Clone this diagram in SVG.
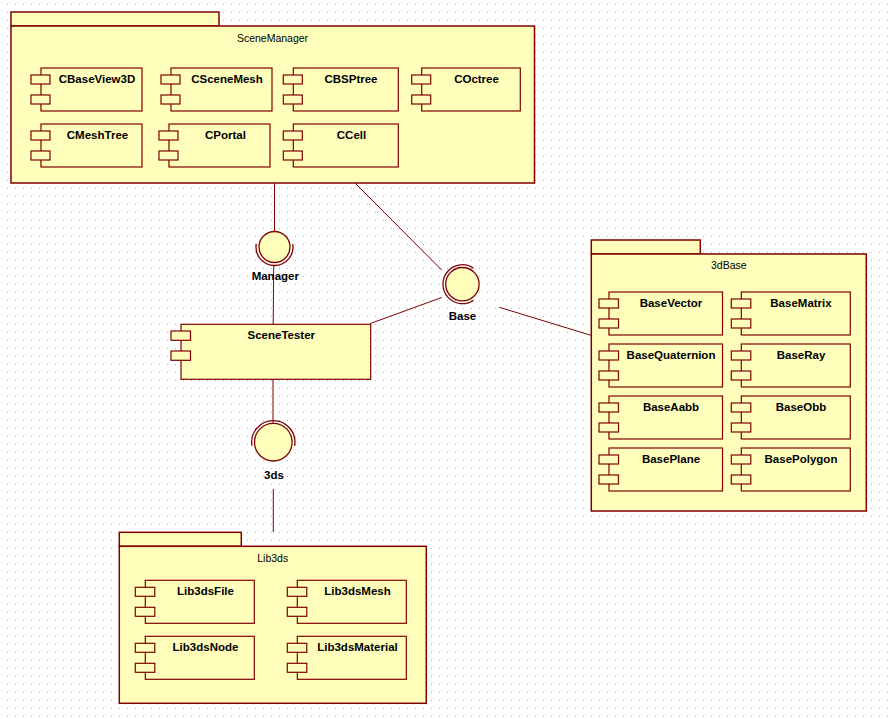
<svg xmlns="http://www.w3.org/2000/svg" width="889" height="719" viewBox="0 0 889 719">
<defs>
<pattern id="grid" x="0" y="0" width="8" height="8" patternUnits="userSpaceOnUse">
<rect x="7" y="4" width="1" height="1" fill="#b4b4b4"/>
</pattern>
<style>
.pkg{fill:#ffffbb;stroke:#800000;stroke-width:1.5}
.cmp{fill:#ffffbb;stroke:#800000;stroke-width:1.2}
.ball{fill:#ffffbb;stroke:#800000;stroke-width:1.3}
.sock{fill:none;stroke:#800000;stroke-width:1.3}
.ln{fill:none;stroke:#800000;stroke-width:1}
.pn{font-family:"Liberation Sans",Arial,sans-serif;font-size:10.5px;fill:#000;text-anchor:middle}
.cn{font-family:"Liberation Sans",Arial,sans-serif;font-size:11.5px;font-weight:bold;fill:#000;text-anchor:middle}
</style>
</defs>
<rect width="889" height="719" fill="#ffffff"/>
<rect width="889" height="719" fill="url(#grid)"/>

<g id="connectors">
<line class="ln" x1="274.5" y1="183" x2="274.5" y2="231.5"/>
<line class="ln" x1="273.7" y1="266" x2="273.2" y2="324"/>
<line class="ln" x1="273" y1="379" x2="273" y2="423"/>
<line class="ln" x1="273.3" y1="489" x2="273.3" y2="532"/>
<line class="ln" x1="355" y1="183" x2="441.7" y2="270"/>
<line class="ln" x1="370.3" y1="323.5" x2="441.7" y2="297.5"/>
<line class="ln" x1="499.3" y1="307.3" x2="591" y2="335.3"/>
</g>

<g id="SceneManager">
<rect class="pkg" x="11" y="12" width="208" height="14"/>
<rect class="pkg" x="11" y="26" width="523.5" height="157"/>
<text class="pn" x="272.5" y="41.5">SceneManager</text>
</g>
<g id="CBaseView3D">
<rect class="cmp" x="41" y="68" width="101" height="43"/>
<rect class="cmp" x="31" y="75" width="19" height="9"/><rect class="cmp" x="31" y="95" width="19" height="9"/>
<text class="cn" x="97" y="82.5">CBaseView3D</text>
</g>
<g id="CSceneMesh">
<rect class="cmp" x="171" y="68" width="101" height="43"/>
<rect class="cmp" x="161" y="75" width="19" height="9"/><rect class="cmp" x="161" y="95" width="19" height="9"/>
<text class="cn" x="227" y="82.5">CSceneMesh</text>
</g>
<g id="CBSPtree">
<rect class="cmp" x="293.3" y="68" width="105" height="43"/>
<rect class="cmp" x="283.3" y="75" width="19" height="9"/><rect class="cmp" x="283.3" y="95" width="19" height="9"/>
<text class="cn" x="351" y="82.5">CBSPtree</text>
</g>
<g id="COctree">
<rect class="cmp" x="421.7" y="68" width="98.6" height="43"/>
<rect class="cmp" x="411.7" y="75" width="19" height="9"/><rect class="cmp" x="411.7" y="95" width="19" height="9"/>
<text class="cn" x="476.5" y="82.5">COctree</text>
</g>
<g id="CMeshTree">
<rect class="cmp" x="41" y="124" width="101" height="43"/>
<rect class="cmp" x="31" y="131" width="19" height="9"/><rect class="cmp" x="31" y="151" width="19" height="9"/>
<text class="cn" x="97.5" y="138.5">CMeshTree</text>
</g>
<g id="CPortal">
<rect class="cmp" x="169" y="124" width="101" height="43"/>
<rect class="cmp" x="159" y="131" width="19" height="9"/><rect class="cmp" x="159" y="151" width="19" height="9"/>
<text class="cn" x="225.5" y="138.5">CPortal</text>
</g>
<g id="CCell">
<rect class="cmp" x="293.3" y="124" width="105" height="43"/>
<rect class="cmp" x="283.3" y="131" width="19" height="9"/><rect class="cmp" x="283.3" y="151" width="19" height="9"/>
<text class="cn" x="351.5" y="138.5">CCell</text>
</g>

<g id="Manager">
<circle class="ball" cx="274.5" cy="247" r="15.5"/>
<path class="sock" d="M256.28 243.79 A18.5 18.5 0 1 0 292.72 243.79"/>
<text class="cn" x="275.3" y="280">Manager</text>
</g>

<g id="Base">
<circle class="ball" cx="462.4" cy="284.2" r="16.7"/>
<path class="sock" d="M473.6 268.2 A19.5 19.5 0 1 0 473.6 300.2"/>
<text class="cn" x="462.5" y="320">Base</text>
</g>

<g id="SceneTester">
<rect class="cmp" x="181" y="324.3" width="189.7" height="55"/>
<rect class="cmp" x="171" y="331" width="19.5" height="9.3"/><rect class="cmp" x="171" y="351" width="19.5" height="9.3"/>
<text class="cn" x="281.3" y="339">SceneTester</text>
</g>

<g id="i3ds">
<circle class="ball" cx="273.3" cy="442.2" r="18.8"/>
<path class="sock" d="M252.03 445.9 A21.6 21.6 0 1 1 294.57 445.9"/>
<text class="cn" x="274" y="479">3ds</text>
</g>

<g id="p3dBase">
<rect class="pkg" x="591.3" y="240" width="109" height="14"/>
<rect class="pkg" x="591.3" y="254" width="275" height="257"/>
<text class="pn" x="728.8" y="269.3">3dBase</text>
</g>
<g id="BaseVector">
<rect class="cmp" x="609" y="292" width="113.5" height="43"/>
<rect class="cmp" x="599" y="299" width="19.5" height="9"/><rect class="cmp" x="599" y="319" width="19.5" height="9"/>
<text class="cn" x="671" y="306.5">BaseVector</text>
</g>
<g id="BaseMatrix">
<rect class="cmp" x="741.3" y="292" width="109" height="43"/>
<rect class="cmp" x="731.3" y="299" width="19.5" height="9"/><rect class="cmp" x="731.3" y="319" width="19.5" height="9"/>
<text class="cn" x="801" y="306.5">BaseMatrix</text>
</g>
<g id="BaseQuaternion">
<rect class="cmp" x="609" y="344" width="113.5" height="43"/>
<rect class="cmp" x="599" y="351" width="19.5" height="9"/><rect class="cmp" x="599" y="371" width="19.5" height="9"/>
<text class="cn" x="671" y="358.5">BaseQuaternion</text>
</g>
<g id="BaseRay">
<rect class="cmp" x="741.3" y="344" width="109" height="43"/>
<rect class="cmp" x="731.3" y="351" width="19.5" height="9"/><rect class="cmp" x="731.3" y="371" width="19.5" height="9"/>
<text class="cn" x="801" y="358.5">BaseRay</text>
</g>
<g id="BaseAabb">
<rect class="cmp" x="609" y="396" width="113.5" height="43"/>
<rect class="cmp" x="599" y="403" width="19.5" height="9"/><rect class="cmp" x="599" y="423" width="19.5" height="9"/>
<text class="cn" x="671" y="410.5">BaseAabb</text>
</g>
<g id="BaseObb">
<rect class="cmp" x="741.3" y="396" width="109" height="43"/>
<rect class="cmp" x="731.3" y="403" width="19.5" height="9"/><rect class="cmp" x="731.3" y="423" width="19.5" height="9"/>
<text class="cn" x="801" y="410.5">BaseObb</text>
</g>
<g id="BasePlane">
<rect class="cmp" x="609" y="448" width="113.5" height="43"/>
<rect class="cmp" x="599" y="455" width="19.5" height="9"/><rect class="cmp" x="599" y="475" width="19.5" height="9"/>
<text class="cn" x="671" y="462.5">BasePlane</text>
</g>
<g id="BasePolygon">
<rect class="cmp" x="741.3" y="448" width="109" height="43"/>
<rect class="cmp" x="731.3" y="455" width="19.5" height="9"/><rect class="cmp" x="731.3" y="475" width="19.5" height="9"/>
<text class="cn" x="801" y="462.5">BasePolygon</text>
</g>

<g id="Lib3ds">
<rect class="pkg" x="119.3" y="532.3" width="122" height="14"/>
<rect class="pkg" x="119.3" y="546.3" width="307" height="157"/>
<text class="pn" x="272.7" y="561.5">Lib3ds</text>
</g>
<g id="Lib3dsFile">
<rect class="cmp" x="145.3" y="580.3" width="109" height="43"/>
<rect class="cmp" x="135.3" y="587.3" width="19.5" height="9"/><rect class="cmp" x="135.3" y="607.3" width="19.5" height="9"/>
<text class="cn" x="205.5" y="594.8">Lib3dsFile</text>
</g>
<g id="Lib3dsMesh">
<rect class="cmp" x="297.3" y="580.3" width="109" height="43"/>
<rect class="cmp" x="287.3" y="587.3" width="19.5" height="9"/><rect class="cmp" x="287.3" y="607.3" width="19.5" height="9"/>
<text class="cn" x="357.5" y="594.8">Lib3dsMesh</text>
</g>
<g id="Lib3dsNode">
<rect class="cmp" x="145.3" y="636.3" width="109" height="43"/>
<rect class="cmp" x="135.3" y="643.3" width="19.5" height="9"/><rect class="cmp" x="135.3" y="663.3" width="19.5" height="9"/>
<text class="cn" x="205.5" y="650.8">Lib3dsNode</text>
</g>
<g id="Lib3dsMaterial">
<rect class="cmp" x="297.3" y="636.3" width="109" height="43"/>
<rect class="cmp" x="287.3" y="643.3" width="19.5" height="9"/><rect class="cmp" x="287.3" y="663.3" width="19.5" height="9"/>
<text class="cn" x="357.5" y="650.8">Lib3dsMaterial</text>
</g>
</svg>
